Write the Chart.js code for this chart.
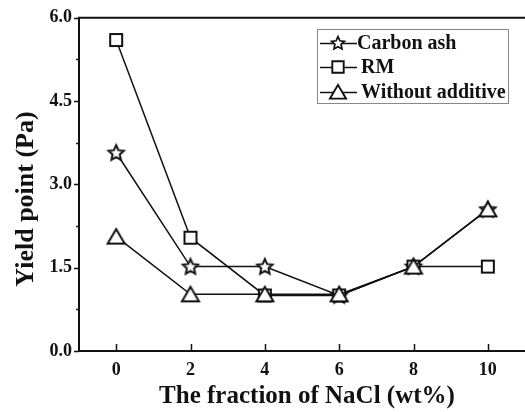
<!DOCTYPE html>
<html>
<head>
<meta charset="utf-8">
<script src="https://cdn.jsdelivr.net/npm/chart.js@4/dist/chart.umd.min.js"></script>
<style>
  html, body { margin: 0; padding: 0; background: #fff; }
  #wrap { width: 525px; height: 412px; }
</style>
</head>
<body>
<div id="wrap"><canvas id="chartYield" width="525" height="412"></canvas></div>
<script>
const nacl = [0, 2, 4, 6, 8, 10];
const carbonAsh = [3.57, 1.52, 1.52, 1.0, 1.52, 2.55];
const rm = [5.6, 2.04, 1.0, 1.0, 1.52, 1.52];
const withoutAdditive = [2.06, 1.02, 1.02, 1.02, 1.52, 2.55];
const seriesNames = ["Carbon ash", "RM", "Without additive"];
const yTicks = [0, 1.5, 3, 4.5, 6];
const xTicks = [0, 2, 4, 6, 8, 10];

const FONT = "'Liberation Serif', 'Times New Roman', serif";
const INK = "#111";

// open markers drawn once to small canvases
function marcador(tipo, escala = 1) {
  const c = document.createElement("canvas");
  c.width = 22; c.height = 22;
  const ctx = c.getContext("2d");
  ctx.translate(11, 11);
  ctx.scale(escala, escala);
  ctx.translate(-11, -11);
  ctx.strokeStyle = INK;
  ctx.fillStyle = "#fff";
  ctx.lineWidth = 2;
  ctx.lineJoin = "miter";
  ctx.beginPath();
  if (tipo === "star") {
    for (let i = 0; i < 10; i++) {
      const r = i % 2 === 0 ? 8 : 3.8;
      const a = -Math.PI / 2 + i * Math.PI / 5;
      const px = 11 + r * Math.cos(a), py = 11.5 + r * Math.sin(a);
      i === 0 ? ctx.moveTo(px, py) : ctx.lineTo(px, py);
    }
  } else if (tipo === "square") {
    ctx.rect(5, 5, 12, 12);
  } else {
    ctx.moveTo(11, 3.5);
    ctx.lineTo(19.5, 18);
    ctx.lineTo(2.5, 18);
  }
  ctx.closePath();
  ctx.fill();
  ctx.stroke();
  return c;
}

const marcadores = [marcador("star"), marcador("square"), marcador("triangle")];
const marcadoresLeyenda = [marcador("star", 0.85), marcador("square", 0.95), marcador("triangle", 0.95)];

function serie(label, valores, idx, orden) {
  return {
    label,
    data: nacl.map((x, i) => ({ x, y: valores[i] })),
    borderColor: INK,
    borderWidth: 1.5,
    pointStyle: marcadores[idx],
    pointRadius: 8,
    order: orden,
    tension: 0
  };
}

const ejesYLeyenda = {
  id: "ejesYLeyenda",
  afterDraw(chart) {
    const { ctx, chartArea: a, scales: { x, y } } = chart;
    ctx.save();
    ctx.strokeStyle = INK;
    ctx.lineWidth = 2;
    // frame: left, bottom, top
    ctx.beginPath();
    ctx.moveTo(chart.width, a.top); ctx.lineTo(a.left, a.top);
    ctx.lineTo(a.left, a.bottom); ctx.lineTo(chart.width, a.bottom);
    ctx.stroke();

    // y tick marks, outward, minor ones between labels
    ctx.lineWidth = 1.5;
    for (let v = 0; v <= 6.001; v += 0.75) {
      const py = Math.round(y.getPixelForValue(v)) + 0.5;
      const major = Math.abs(v / 1.5 - Math.round(v / 1.5)) < 1e-6;
      ctx.beginPath();
      ctx.moveTo(a.left - (major ? 5 : 3), py);
      ctx.lineTo(a.left, py);
      ctx.stroke();
    }
    // x tick marks, inward
    xTicks.forEach(v => {
      const px = Math.round(x.getPixelForValue(v)) + 0.5;
      ctx.beginPath();
      ctx.moveTo(px, a.bottom);
      ctx.lineTo(px, a.bottom - 7);
      ctx.stroke();
    });

    // axis titles
    ctx.fillStyle = INK;
    ctx.textAlign = "center";
    ctx.textBaseline = "middle";
    ctx.font = "bold 25px " + FONT;
    ctx.fillText("The fraction of NaCl (wt%)", 307, 397);
    ctx.save();
    ctx.translate(26, 199);
    ctx.rotate(-Math.PI / 2);
    ctx.font = "bold 26px " + FONT;
    ctx.fillText("Yield point (Pa)", 0, 0);
    ctx.restore();

    // legend box
    const bx = 317, by = 29, bw = 191, bh = 74;
    ctx.fillStyle = "#fff";
    ctx.fillRect(bx, by, bw, bh);
    ctx.strokeStyle = "#888";
    ctx.lineWidth = 1;
    ctx.strokeRect(bx + 0.5, by + 0.5, bw, bh);
    const filas = [43, 67, 92];
    ctx.font = "bold 20px " + FONT;
    ctx.textAlign = "left";
    seriesNames.forEach((nombre, i) => {
      const fy = filas[i];
      ctx.strokeStyle = INK;
      ctx.lineWidth = 1.5;
      ctx.beginPath();
      ctx.moveTo(320, fy + 0.5);
      ctx.lineTo(357, fy + 0.5);
      ctx.stroke();
      ctx.drawImage(marcadoresLeyenda[i], 338 - 11, fy - 11);
      ctx.fillStyle = INK;
      ctx.fillText(nombre, i === 0 ? 357 : 361, fy + 1);
    });
    ctx.restore();
  }
};

new Chart(document.getElementById("chartYield"), {
  type: "line",
  data: {
    datasets: [
      serie(seriesNames[0], carbonAsh, 0, 2),
      serie(seriesNames[1], rm, 1, 1),
      serie(seriesNames[2], withoutAdditive, 2, 0)
    ]
  },
  plugins: [ejesYLeyenda],
  options: {
    responsive: false,
    animation: false,
    layout: { autoPadding: false, padding: { top: 17, right: 0, left: 0, bottom: 0 } },
    plugins: { legend: { display: false }, tooltip: { enabled: false } },
    scales: {
      x: {
        type: "linear",
        min: -1,
        max: 11,
        afterFit: s => { s.height = 61; },
        afterBuildTicks: s => { s.ticks = xTicks.map(v => ({ value: v })); },
        grid: { display: false, drawTicks: false },
        border: { display: false },
        ticks: { color: INK, padding: 9, font: { family: FONT, size: 18, weight: "bold" } }
      },
      y: {
        min: 0,
        max: 6,
        afterFit: s => { s.width = 79; },
        afterBuildTicks: s => { s.ticks = yTicks.map(v => ({ value: v })); },
        grid: { display: false, drawTicks: false },
        border: { display: false },
        ticks: {
          color: INK,
          padding: 7,
          font: { family: FONT, size: 18, weight: "bold" },
          callback: v => Number(v).toFixed(1)
        }
      }
    }
  }
});
</script>
</body>
</html>
